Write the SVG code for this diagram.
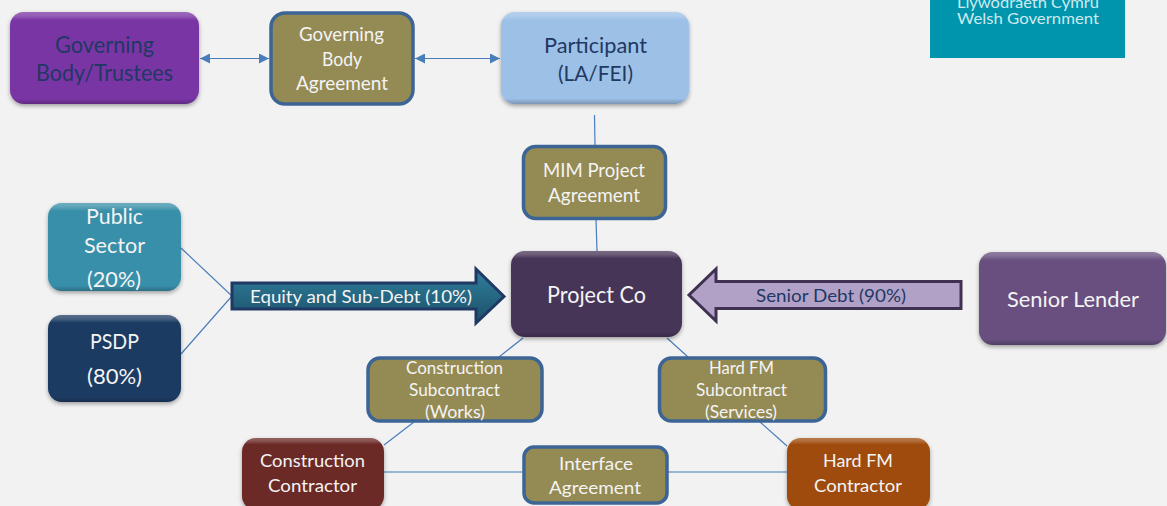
<svg xmlns="http://www.w3.org/2000/svg" width="1167" height="506" viewBox="0 0 1167 506">
<style>
text{font-family:"Lato","Carlito","Open Sans",sans-serif;fill:#f4f4f4;text-anchor:middle}
.dark{fill:#1f3864}
.xl{font-size:22.500px}.l{font-size:21.500px}.m{font-size:19px}.s{font-size:18px}.xs{font-size:16.500px}.a{font-size:17.500px}
.agr{fill:#948a54;stroke:#3c6595;stroke-width:3.500}
.bev{fill:url(#bevel);stroke:none}
.con{fill:none;stroke:#4a7ebb;stroke-width:1.2}
.con2{fill:none;stroke:#7ba0cd;stroke-width:1.6}
</style>
<defs>
<filter id="sh" x="-10%" y="-10%" width="120%" height="125%"><feDropShadow dx="0" dy="2" stdDeviation="2" flood-color="#000" flood-opacity=".35"/></filter>
<linearGradient id="bevel" x1="0" y1="0" x2="0" y2="1">
<stop offset="0" stop-color="#fff" stop-opacity=".26"/><stop offset=".04" stop-color="#fff" stop-opacity=".2"/><stop offset=".09" stop-color="#fff" stop-opacity="0"/>
<stop offset=".94" stop-color="#000" stop-opacity="0"/><stop offset="1" stop-color="#000" stop-opacity=".22"/>
</linearGradient>
<linearGradient id="eq" x1="0" y1="0" x2="0" y2="1"><stop offset="0" stop-color="#2f7f9c"/><stop offset="1" stop-color="#1c5069"/></linearGradient>
<marker id="ah" viewBox="0 0 10 10" refX="10" refY="5" markerWidth="10" markerHeight="10" orient="auto-start-reverse" markerUnits="userSpaceOnUse"><path d="M0 0L10 5L0 10z" fill="#4a7ebb"/></marker>
</defs>
<rect width="1167" height="506" fill="#f2f2f2"/>
<g id="connectors">
<path class="con" d="M200 58.500H269" marker-start="url(#ah)" marker-end="url(#ah)"/>
<path class="con" d="M415 58.500H500" marker-start="url(#ah)" marker-end="url(#ah)"/>
<path class="con" d="M594.500 115L595 146"/>
<path class="con" d="M596 219L597 251"/>
<path class="con" d="M181 248L232 296L181 354"/>
<path class="con" d="M523 338L499 357"/>
<path class="con" d="M667 338L688 357"/>
<path class="con" d="M414 422L384 445"/>
<path class="con" d="M760 422L787 446"/>
<path class="con2" d="M384 472H524"/>
<path class="con2" d="M667 472H787"/>
</g>
<g id="logo"><rect x="930" y="0" width="195" height="58" fill="#0095ac"/>
<text x="1028" y="8" font-size="15" textLength="142" lengthAdjust="spacingAndGlyphs" style="fill:#cdeaf0">Llywodraeth Cymru</text>
<text x="1028" y="24" font-size="15" textLength="142" lengthAdjust="spacingAndGlyphs" style="fill:#cdeaf0">Welsh Government</text></g>
<g id="governing-body"><g filter="url(#sh)"><rect x="10" y="12" width="189" height="92" rx="14" fill="#7a35a5"/></g><rect class="bev" x="10" y="12" width="189" height="92" rx="14"/>
<text class="xl dark" x="104.500" y="53" textLength="99" lengthAdjust="spacingAndGlyphs">Governing</text>
<text class="xl dark" x="104.500" y="81" textLength="137" lengthAdjust="spacingAndGlyphs">Body/Trustees</text></g>
<g id="gb-agreement"><rect class="agr" x="271" y="13" width="142" height="91" rx="14"/>
<text class="m" x="341.500" y="41" textLength="85" lengthAdjust="spacingAndGlyphs">Governing</text>
<text class="m" x="342" y="66" textLength="40" lengthAdjust="spacingAndGlyphs">Body</text>
<text class="m" x="342" y="90" textLength="92" lengthAdjust="spacingAndGlyphs">Agreement</text></g>
<g id="participant"><g filter="url(#sh)"><rect x="501" y="12" width="188" height="92" rx="14" fill="#9dc0e6"/></g><rect class="bev" x="501" y="12" width="188" height="92" rx="14"/>
<text class="l dark" x="595.500" y="53" textLength="103" lengthAdjust="spacingAndGlyphs">Participant</text>
<text class="l dark" x="595.500" y="81" textLength="75" lengthAdjust="spacingAndGlyphs">(LA/FEI)</text></g>
<g id="mim-agreement"><rect class="agr" x="523.500" y="146.500" width="142" height="72" rx="12"/>
<text class="m" x="594" y="177" textLength="102" lengthAdjust="spacingAndGlyphs">MIM Project</text>
<text class="m" x="594" y="202" textLength="92" lengthAdjust="spacingAndGlyphs">Agreement</text></g>
<g id="project-co"><g filter="url(#sh)"><rect x="511" y="251" width="171" height="86" rx="14" fill="#473659"/></g><rect class="bev" x="511" y="251" width="171" height="86" rx="14"/>
<text class="xl" x="596.500" y="303" textLength="99" lengthAdjust="spacingAndGlyphs">Project Co</text></g>
<g id="public-sector"><g filter="url(#sh)"><rect x="48" y="203" width="133" height="88" rx="14" fill="#378fa9"/></g><rect class="bev" x="48" y="203" width="133" height="88" rx="14"/>
<text class="l" x="114.500" y="224" textLength="57" lengthAdjust="spacingAndGlyphs">Public</text>
<text class="l" x="114.500" y="253" textLength="61" lengthAdjust="spacingAndGlyphs">Sector</text>
<text class="l" x="114" y="287" textLength="54" lengthAdjust="spacingAndGlyphs">(20%)</text></g>
<g id="psdp"><g filter="url(#sh)"><rect x="48" y="315" width="133" height="87" rx="14" fill="#1c3a64"/></g><rect class="bev" x="48" y="315" width="133" height="87" rx="14"/>
<text class="l" x="114.500" y="349" textLength="49" lengthAdjust="spacingAndGlyphs">PSDP</text>
<text class="l" x="114.500" y="384" textLength="55" lengthAdjust="spacingAndGlyphs">(80%)</text></g>
<g id="equity-arrow"><path d="M232 283H476V269L504 296.500L476 323V309H232z" fill="url(#eq)" stroke="#1f3864" stroke-width="3"/>
<text class="a" x="361" y="303" textLength="222" lengthAdjust="spacingAndGlyphs">Equity and Sub-Debt (10%)</text></g>
<g id="debt-arrow"><path d="M961 281.500H716V269L689 295L716 321V308.500H961z" fill="#b2a1c7" stroke="#3f3151" stroke-width="3"/>
<text class="a dark" x="831" y="302" textLength="150" lengthAdjust="spacingAndGlyphs">Senior Debt (90%)</text></g>
<g id="senior-lender"><g filter="url(#sh)"><rect x="979" y="252" width="187" height="93" rx="14" fill="#68507f"/></g><rect class="bev" x="979" y="252" width="187" height="93" rx="14"/>
<text class="l" x="1073" y="307" textLength="132" lengthAdjust="spacingAndGlyphs">Senior Lender</text></g>
<g id="construction-subcontract"><rect class="agr" x="368" y="358" width="174" height="63" rx="12"/>
<text class="xs" x="454.500" y="374" textLength="97" lengthAdjust="spacingAndGlyphs">Construction</text>
<text class="xs" x="454.500" y="396" textLength="91" lengthAdjust="spacingAndGlyphs">Subcontract</text>
<text class="xs" x="455" y="418" textLength="60" lengthAdjust="spacingAndGlyphs">(Works)</text></g>
<g id="hardfm-subcontract"><rect class="agr" x="659.500" y="358" width="166" height="63" rx="12"/>
<text class="xs" x="741.500" y="374" textLength="65" lengthAdjust="spacingAndGlyphs">Hard FM</text>
<text class="xs" x="741.500" y="396" textLength="91" lengthAdjust="spacingAndGlyphs">Subcontract</text>
<text class="xs" x="741" y="418" textLength="72" lengthAdjust="spacingAndGlyphs">(Services)</text></g>
<g id="construction-contractor"><g filter="url(#sh)"><rect x="242" y="438" width="142" height="72" rx="14" fill="#6c2a28"/></g><rect class="bev" x="242" y="438" width="142" height="72" rx="14"/>
<text class="s" x="312.500" y="467" textLength="105" lengthAdjust="spacingAndGlyphs">Construction</text>
<text class="s" x="312.500" y="492" textLength="89" lengthAdjust="spacingAndGlyphs">Contractor</text></g>
<g id="interface-agreement"><rect class="agr" x="524" y="447" width="143" height="56" rx="10"/>
<text class="s" x="596" y="470" textLength="74" lengthAdjust="spacingAndGlyphs">Interface</text>
<text class="s" x="595" y="494" textLength="92" lengthAdjust="spacingAndGlyphs">Agreement</text></g>
<g id="hardfm-contractor"><g filter="url(#sh)"><rect x="787" y="438" width="143" height="72" rx="14" fill="#9f4c08"/></g><rect class="bev" x="787" y="438" width="143" height="72" rx="14"/>
<text class="s" x="858" y="467" textLength="70" lengthAdjust="spacingAndGlyphs">Hard FM</text>
<text class="s" x="858" y="492" textLength="88" lengthAdjust="spacingAndGlyphs">Contractor</text></g>
</svg>
